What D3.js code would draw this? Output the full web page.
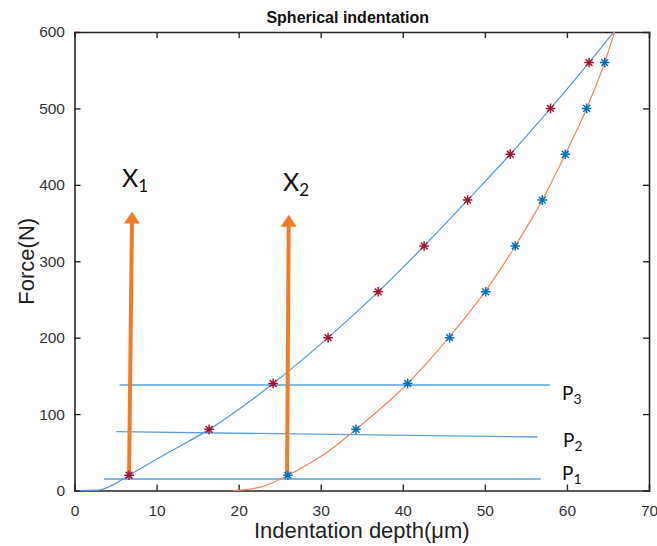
<!DOCTYPE html>
<html>
<head>
<meta charset="utf-8">
<script src="https://cdn.jsdelivr.net/npm/d3@7"></script>
<style>
  html, body { margin: 0; padding: 0; background: #fff; }
  svg { display: block; }
</style>
</head>
<body>
<div id="chart"></div>
<script>
// ---- data ----
const xTicks = [0, 10, 20, 30, 40, 50, 60, 70];
const yTicks = [0, 100, 200, 300, 400, 500, 600];

// loading curve measurement points (red stars)
const loadDepth = [6.65, 16.4, 24.2, 30.9, 37.0, 42.6, 47.9, 53.1, 58.0, 62.7];
const loadForce = [20, 80, 140, 200, 260, 320, 380, 440, 500, 560];

// unloading-side measurement points (blue stars)
const unloadDepth = [26.0, 34.3, 40.6, 45.7, 50.1, 53.7, 57.0, 59.8, 62.4, 64.6];
const unloadForce = [20, 80, 140, 200, 260, 320, 380, 440, 500, 560];

// fitted curves
const loadCurveDepth = [0.6, 2.9, 4.6, 6.65, 11.5, 16.4, 24.2, 30.9, 37.0, 42.6, 47.9, 53.1, 58.0, 62.7, 65.7];
const loadCurveForce = [0, 0.5, 7, 20, 50, 80, 140, 200, 260, 320, 380, 440, 500, 560, 600];
const unloadCurveDepth = [19.3, 22.5, 26.0, 30.5, 34.3, 40.6, 45.6, 50.0, 53.7, 57.0, 59.8, 62.4, 64.6, 65.8];
const unloadCurveForce = [0, 4, 20, 48, 80, 140, 200, 260, 320, 380, 440, 500, 560, 600];

// horizontal force levels
const pNames = ["P", "P", "P"];
const pSubs = ["1", "2", "3"];
const pStartDepth = [3.6, 5.1, 5.5];
const pEndDepth = [56.8, 56.4, 57.9];
const pStartForce = [15, 77, 138];
const pEndForce = [15, 70, 138];

// vertical arrows
const xNames = ["X", "X"];
const xSubs = ["1", "2"];
const arrowBaseDepth = [6.65, 25.9];
const arrowTipDepth = [7.0, 26.1];
const arrowBaseForce = [20, 20];
const arrowTipForce = [365, 361];

// ---- layout ----
const W = 657, H = 546;
const mLeft = 74.5, mRight = 649, mTop = 32, mBottom = 490.5;

const svg = d3.select("#chart").append("svg")
  .attr("width", W).attr("height", H)
  .style("font-family", "'Liberation Sans', Arial, sans-serif");

svg.append("rect").attr("width", W).attr("height", H).attr("fill", "#fff");

const x = d3.scaleLinear().domain([0, 70]).range([mLeft, mRight]);
const y = d3.scaleLinear().domain([0, 600]).range([mBottom, mTop]);

const axisColor = "#262626";

// Axes (inward ticks on all sides)
const gx = svg.append("g").attr("transform", `translate(0,${mBottom})`)
  .call(d3.axisBottom(x).tickValues(xTicks).tickSize(-6).tickPadding(14).tickFormat(d3.format("d")));
const gxt = svg.append("g").attr("transform", `translate(0,${mTop})`)
  .call(d3.axisTop(x).tickValues(xTicks).tickSize(-6).tickFormat(""));
const gy = svg.append("g").attr("transform", `translate(${mLeft},0)`)
  .call(d3.axisLeft(y).tickValues(yTicks).tickSize(-6).tickPadding(9.5).tickFormat(d3.format("d")));
const gyr = svg.append("g").attr("transform", `translate(${mRight},0)`)
  .call(d3.axisRight(y).tickValues(yTicks).tickSize(-6).tickFormat(""));

[gx, gxt, gy, gyr].forEach(g => {
  g.select(".domain").attr("stroke", axisColor).attr("stroke-width", 1.6);
  g.selectAll(".tick line").attr("stroke", axisColor).attr("stroke-width", 1.4);
  g.selectAll(".tick text").attr("fill", "#333").style("font-size", "15.5px")
    .style("font-family", "'Liberation Sans', Arial, sans-serif");
});
gxt.selectAll(".tick").filter(d => d === 0 || d === 70).select("line").remove();
gx.selectAll(".tick").filter(d => d === 0 || d === 70).select("line").remove();
gy.selectAll(".tick").filter(d => d === 0 || d === 600).select("line").remove();
gyr.selectAll(".tick").filter(d => d === 0 || d === 600).select("line").remove();

// Title and axis labels
svg.append("text").attr("x", (mLeft + mRight) / 2 - 14).attr("y", 23)
  .attr("text-anchor", "middle").attr("font-weight", "bold")
  .style("font-size", "16px").attr("fill", "#111")
  .text("Spherical indentation");

svg.append("text").attr("x", (mLeft + mRight) / 2).attr("y", 538)
  .attr("text-anchor", "middle").style("font-size", "22px").attr("fill", "#222")
  .text("Indentation depth(μm)");

svg.append("text")
  .attr("transform", `translate(34,${(mTop + mBottom) / 2}) rotate(-90)`)
  .attr("text-anchor", "middle").style("font-size", "22px").attr("fill", "#222")
  .text("Force(N)");

const plot = svg.append("g");

// Horizontal P lines
const pIdx = d3.range(pNames.length);
plot.selectAll("line.p").data(pIdx).enter().append("line")
  .attr("x1", i => x(pStartDepth[i])).attr("x2", i => x(pEndDepth[i]))
  .attr("y1", i => y(pStartForce[i])).attr("y2", i => y(pEndForce[i]))
  .attr("stroke", "#5d9fdc").attr("stroke-width", 1.4);

// Curves
const line = d3.line().x(d => x(d[0])).y(d => y(d[1])).curve(d3.curveMonotoneX);
plot.append("path")
  .datum(loadCurveDepth.map((d, i) => [d, loadCurveForce[i]]))
  .attr("d", line).attr("fill", "none").attr("stroke", "#4f97dd").attr("stroke-width", 1.2);
plot.append("path")
  .datum(unloadCurveDepth.map((d, i) => [d, unloadCurveForce[i]]))
  .attr("d", line).attr("fill", "none").attr("stroke", "#f5845c").attr("stroke-width", 1.2);

// Arrows
const arrowColor = "#f07c28";
const aIdx = d3.range(xNames.length);
aIdx.forEach(i => {
  const bx = x(arrowBaseDepth[i]), by = y(arrowBaseForce[i]);
  const tx = x(arrowTipDepth[i]), ty = y(arrowTipForce[i]);
  plot.append("line")
    .attr("x1", bx).attr("y1", by).attr("x2", tx).attr("y2", ty + 10)
    .attr("stroke", arrowColor).attr("stroke-width", 4);
  plot.append("path")
    .attr("d", `M${tx},${ty} L${tx + 8},${ty + 12} L${tx - 8},${ty + 12} Z`)
    .attr("fill", arrowColor);
});

// Star markers
const star = "M-4.8,0H4.8M0,-4.8V4.8M-3.4,-3.4L3.4,3.4M-3.4,3.4L3.4,-3.4";
plot.selectAll("path.rs").data(d3.range(loadDepth.length)).enter().append("path")
  .attr("transform", i => `translate(${x(loadDepth[i])},${y(loadForce[i])})`)
  .attr("d", star).attr("stroke", "#a2142f").attr("stroke-width", 1.5).attr("fill", "none");
plot.selectAll("path.bs").data(d3.range(unloadDepth.length)).enter().append("path")
  .attr("transform", i => `translate(${x(unloadDepth[i])},${y(unloadForce[i])})`)
  .attr("d", star).attr("stroke", "#0072bd").attr("stroke-width", 1.5).attr("fill", "none");

// P labels
const labelFont = "Lato, 'Open Sans', sans-serif";
const pLabelPos = [[562, 480], [563, 447], [562, 400]];
pIdx.forEach(i => {
  const t = svg.append("text").attr("x", pLabelPos[i][0]).attr("y", pLabelPos[i][1])
    .style("font-family", labelFont).style("font-size", "19px").attr("fill", "#111");
  t.append("tspan").text(pNames[i]);
  t.append("tspan").attr("dy", 4).style("font-size", "14px").text(pSubs[i]);
});

// X labels
const xLabelPos = [[122, 187], [283, 191]];
aIdx.forEach(i => {
  const t = svg.append("text").attr("x", xLabelPos[i][0]).attr("y", xLabelPos[i][1])
    .style("font-family", labelFont).style("font-size", "25px").attr("fill", "#111");
  t.append("tspan").text(xNames[i]);
  t.append("tspan").attr("dy", 5).style("font-size", "17px").text(xSubs[i]);
});
</script>
</body>
</html>
